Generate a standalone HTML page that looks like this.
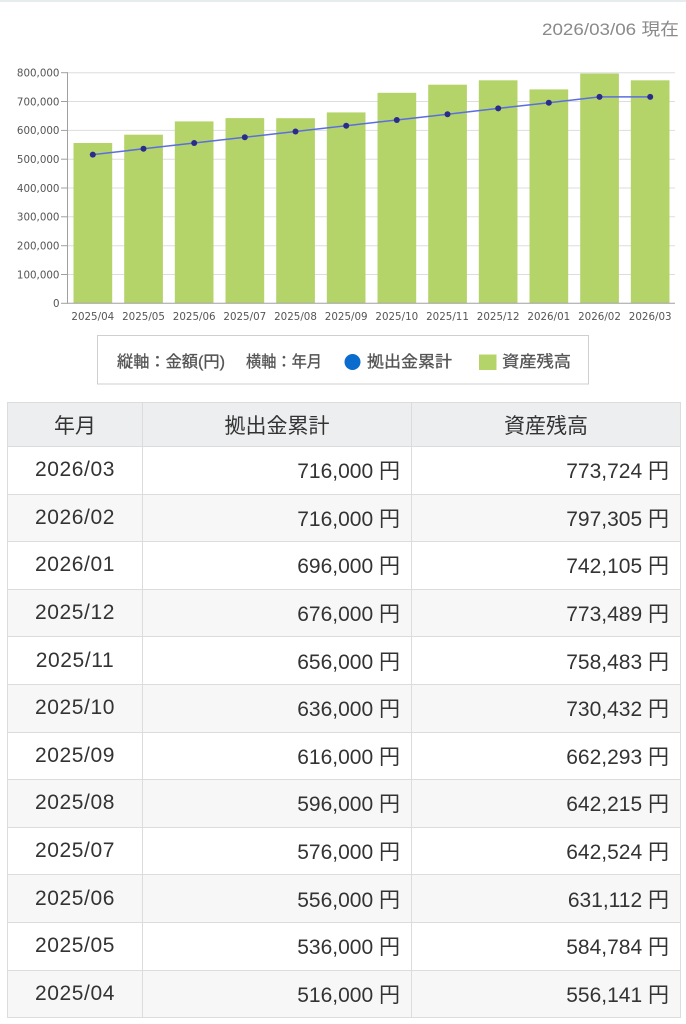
<!DOCTYPE html>
<html>
<head>
<meta charset="utf-8">
<style>
html,body{margin:0;padding:0;background:#fff;}
body{width:686px;height:1024px;position:relative;overflow:hidden;font-family:"Liberation Sans","Noto Sans CJK JP",sans-serif;}
.topline{position:absolute;left:0;top:0;width:686px;height:2px;background:#e6ebee;}
svg.chart{position:absolute;left:0;top:0;}
table{position:absolute;left:7px;top:402px;width:673px;border-collapse:collapse;table-layout:fixed;font-family:"Liberation Sans","Noto Sans CJK JP",sans-serif;color:#333;font-size:21px;}
td,th{border:1px solid #dcdcdc;padding:0;}
th{height:43px;background:#eceef0;font-weight:normal;text-align:center;}
td{height:46.6px;}
td.d{text-align:center;letter-spacing:0.6px;}
td.n{text-align:right;padding-right:11px;}
tr.g td{background:#f7f7f7;}
</style>
</head>
<body>
<div class="topline"></div>
<svg class="chart" width="686" height="400" viewBox="0 0 686 400" xmlns="http://www.w3.org/2000/svg">
  <text x="679" y="35" text-anchor="end" font-family="Liberation Sans, Noto Sans CJK JP, sans-serif" font-size="17" fill="#8a8a8a" textLength="137" lengthAdjust="spacingAndGlyphs">2026/03/06 現在</text>
  <g stroke="#dddddd" stroke-width="1">
    <line x1="67.5" y1="72.7" x2="675" y2="72.7"/>
    <line x1="67.5" y1="101.5" x2="675" y2="101.5"/>
    <line x1="67.5" y1="130.4" x2="675" y2="130.4"/>
    <line x1="67.5" y1="159.2" x2="675" y2="159.2"/>
    <line x1="67.5" y1="188.0" x2="675" y2="188.0"/>
    <line x1="67.5" y1="216.8" x2="675" y2="216.8"/>
    <line x1="67.5" y1="245.7" x2="675" y2="245.7"/>
    <line x1="67.5" y1="274.5" x2="675" y2="274.5"/>
  </g>
  <g fill="#b4d46a">
    <rect x="73.5" y="143.0" width="38.7" height="160.3"/>
    <rect x="124.2" y="134.7" width="38.7" height="168.6"/>
    <rect x="174.8" y="121.4" width="38.7" height="181.9"/>
    <rect x="225.5" y="118.1" width="38.7" height="185.2"/>
    <rect x="276.2" y="118.2" width="38.7" height="185.1"/>
    <rect x="326.8" y="112.4" width="38.7" height="190.9"/>
    <rect x="377.5" y="92.8" width="38.7" height="210.5"/>
    <rect x="428.2" y="84.7" width="38.7" height="218.6"/>
    <rect x="478.8" y="80.3" width="38.7" height="223.0"/>
    <rect x="529.5" y="89.4" width="38.7" height="213.9"/>
    <rect x="580.2" y="73.5" width="38.7" height="229.8"/>
    <rect x="630.8" y="80.3" width="38.7" height="223.0"/>
  </g>
  <g stroke="#a0a0a0" stroke-width="1">
    <line x1="67.5" y1="72.2" x2="67.5" y2="303.8"/>
    <line x1="67.5" y1="303.3" x2="675" y2="303.3"/>
    <line x1="61" y1="72.7" x2="67.5" y2="72.7"/>
    <line x1="61" y1="101.5" x2="67.5" y2="101.5"/>
    <line x1="61" y1="130.4" x2="67.5" y2="130.4"/>
    <line x1="61" y1="159.2" x2="67.5" y2="159.2"/>
    <line x1="61" y1="188.0" x2="67.5" y2="188.0"/>
    <line x1="61" y1="216.8" x2="67.5" y2="216.8"/>
    <line x1="61" y1="245.7" x2="67.5" y2="245.7"/>
    <line x1="61" y1="274.5" x2="67.5" y2="274.5"/>
    <line x1="61" y1="303.3" x2="67.5" y2="303.3"/>
  </g>
  <g font-family="DejaVu Sans, Liberation Sans, sans-serif" font-size="10.3" fill="#555" text-anchor="end">
    <text x="59.5" y="76.5">800,000</text>
    <text x="59.5" y="105.3">700,000</text>
    <text x="59.5" y="134.2">600,000</text>
    <text x="59.5" y="163.0">500,000</text>
    <text x="59.5" y="191.8">400,000</text>
    <text x="59.5" y="220.6">300,000</text>
    <text x="59.5" y="249.5">200,000</text>
    <text x="59.5" y="278.3">100,000</text>
    <text x="59.5" y="307.1">0</text>
  </g>
  <g font-family="DejaVu Sans, Liberation Sans, sans-serif" font-size="10.3" fill="#555" text-anchor="middle">
    <text x="92.8" y="320">2025/04</text>
    <text x="143.5" y="320">2025/05</text>
    <text x="194.2" y="320">2025/06</text>
    <text x="244.8" y="320">2025/07</text>
    <text x="295.5" y="320">2025/08</text>
    <text x="346.2" y="320">2025/09</text>
    <text x="396.8" y="320">2025/10</text>
    <text x="447.5" y="320">2025/11</text>
    <text x="498.2" y="320">2025/12</text>
    <text x="548.8" y="320">2026/01</text>
    <text x="599.5" y="320">2026/02</text>
    <text x="650.2" y="320">2026/03</text>
  </g>
  <polyline fill="none" stroke="#5a6ee0" stroke-width="1.5" points="92.8,154.6 143.5,148.8 194.2,143.0 244.8,137.3 295.5,131.5 346.2,125.7 396.8,120.0 447.5,114.2 498.2,108.4 548.8,102.7 599.5,96.9 650.2,96.9"/>
  <g fill="#2b2b8c">
    <circle cx="92.8" cy="154.6" r="3"/>
    <circle cx="143.5" cy="148.8" r="3"/>
    <circle cx="194.2" cy="143.0" r="3"/>
    <circle cx="244.8" cy="137.3" r="3"/>
    <circle cx="295.5" cy="131.5" r="3"/>
    <circle cx="346.2" cy="125.7" r="3"/>
    <circle cx="396.8" cy="120.0" r="3"/>
    <circle cx="447.5" cy="114.2" r="3"/>
    <circle cx="498.2" cy="108.4" r="3"/>
    <circle cx="548.8" cy="102.7" r="3"/>
    <circle cx="599.5" cy="96.9" r="3"/>
    <circle cx="650.2" cy="96.9" r="3"/>
  </g>
  <rect x="97.5" y="335.5" width="491" height="48.5" fill="#fff" stroke="#cfcfcf" stroke-width="1"/>
  <g font-family="Liberation Sans, Noto Sans CJK JP, sans-serif" font-size="16" fill="#555" stroke="#555" stroke-width="0.3">
    <text x="117" y="367" textLength="108" lengthAdjust="spacingAndGlyphs">縦軸：金額(円)</text>
    <text x="246" y="367" textLength="76" lengthAdjust="spacingAndGlyphs">横軸：年月</text>
    <text x="367" y="367" textLength="85" lengthAdjust="spacingAndGlyphs">拠出金累計</text>
    <text x="502" y="367" textLength="69" lengthAdjust="spacingAndGlyphs">資産残高</text>
  </g>
  <circle cx="352.5" cy="362" r="8" fill="#0a6ccc"/>
  <rect x="479" y="354.5" width="17.5" height="15.5" fill="#b4d46a"/>
</svg>

<table>
  <colgroup><col style="width:135px"><col style="width:269px"><col style="width:269px"></colgroup>
  <tr><th>年月</th><th>拠出金累計</th><th>資産残高</th></tr>
  <tr><td class="d">2026/03</td><td class="n">716,000 円</td><td class="n">773,724 円</td></tr>
  <tr class="g"><td class="d">2026/02</td><td class="n">716,000 円</td><td class="n">797,305 円</td></tr>
  <tr><td class="d">2026/01</td><td class="n">696,000 円</td><td class="n">742,105 円</td></tr>
  <tr class="g"><td class="d">2025/12</td><td class="n">676,000 円</td><td class="n">773,489 円</td></tr>
  <tr><td class="d">2025/11</td><td class="n">656,000 円</td><td class="n">758,483 円</td></tr>
  <tr class="g"><td class="d">2025/10</td><td class="n">636,000 円</td><td class="n">730,432 円</td></tr>
  <tr><td class="d">2025/09</td><td class="n">616,000 円</td><td class="n">662,293 円</td></tr>
  <tr class="g"><td class="d">2025/08</td><td class="n">596,000 円</td><td class="n">642,215 円</td></tr>
  <tr><td class="d">2025/07</td><td class="n">576,000 円</td><td class="n">642,524 円</td></tr>
  <tr class="g"><td class="d">2025/06</td><td class="n">556,000 円</td><td class="n">631,112 円</td></tr>
  <tr><td class="d">2025/05</td><td class="n">536,000 円</td><td class="n">584,784 円</td></tr>
  <tr class="g"><td class="d">2025/04</td><td class="n">516,000 円</td><td class="n">556,141 円</td></tr>
</table>
</body>
</html>
